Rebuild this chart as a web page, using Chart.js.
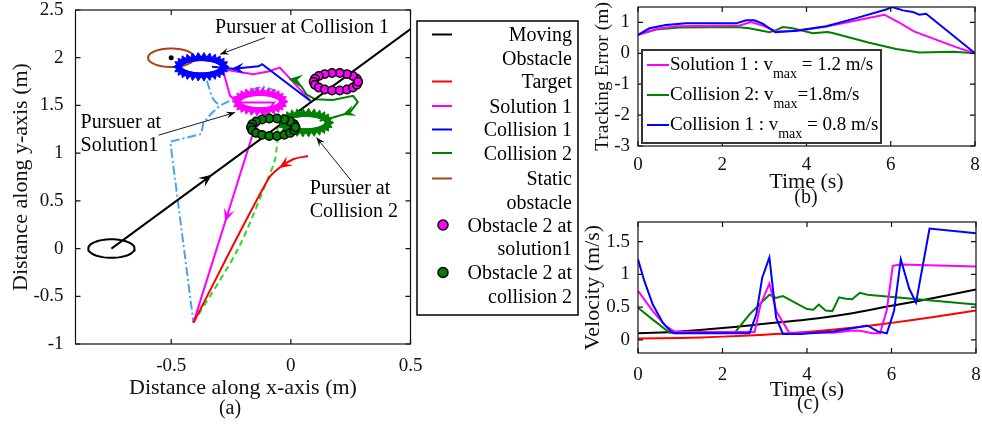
<!DOCTYPE html>
<html lang="en">
<head>
<meta charset="UTF-8">
<title>Pursuer trajectories, tracking error and velocity</title>
<script src="https://cdn.jsdelivr.net/npm/chart.js"></script>
<style>
    body {
        margin: 0;
        background: #fff;
        width: 982px;
        height: 425px;
        position: relative;
        overflow: hidden;
    }
    canvas { position: absolute; }
    #chartA { left: 0; top: 0; }
    #chartB { left: 580px; top: 0; }
    #chartC { left: 580px; top: 210px; }
</style>
</head>
<body>
<canvas id="chartA" width="585" height="425"></canvas>
<canvas id="chartB" width="402" height="210"></canvas>
<canvas id="chartC" width="402" height="215"></canvas>

<script>
    const FONT = '"Liberation Serif", "Times New Roman", serif';
    const INK = '#111';

    // ---------- (a) trajectories, metres ----------
    const xTicksA = [-0.5, 0, 0.5];
    const yTicksA = [-1, -0.5, 0, 0.5, 1, 1.5, 2, 2.5];

    const movingX = [-0.75, 0.5];
    const movingY = [0.0, 2.3];
    const targetX = [0.072, 0.010, -0.046, -0.095, -0.407];
    const targetY = [0.971, 0.936, 0.849, 0.726, -0.776];
    const sol1X = [0.082, -0.046, -0.095, -0.157, -0.285, -0.254, -0.22, -0.07, -0.11, -0.157, -0.407];
    const sol1Y = [1.547, 1.897, 1.855, 1.827, 1.88, 1.60, 1.53, 1.53, 1.40, 1.216, -0.776];
    const col1X = [0.082, -0.12, -0.135, -0.24, -0.33];
    const col1Y = [1.547, 1.932, 1.91, 1.885, 1.905];
    const col1DashX = [-0.06, -0.115, -0.157, -0.24, -0.296, -0.33, -0.365, -0.375, -0.504, -0.407];
    const col1DashY = [1.652, 1.698, 1.67, 1.565, 1.50, 1.42, 1.32, 1.20, 1.12, -0.776];
    const col1BranchX = [-0.351, -0.324, -0.296];
    const col1BranchY = [1.757, 1.565, 1.495];
    const col2X = [-0.005, 0.044, 0.065, 0.10, 0.176, 0.26, 0.28, 0.246, 0.176, 0.12];
    const col2Y = [1.78, 1.698, 1.617, 1.565, 1.558, 1.60, 1.537, 1.425, 1.373, 1.34];
    const col2DashX = [-0.407, -0.22, -0.095, -0.067, -0.06, -0.055, -0.058];
    const col2DashY = [-0.776, 0.0, 0.74, 0.92, 1.04, 1.20, 1.33];

    // circles: moving obstacle start, static obstacle, pursuer at collision 1,
    // pursuer at solution 1, pursuer at collision 2, obstacle 2 at solution1, obstacle 2 at collision 2
    const ringX = [-0.75, -0.5, -0.375, -0.129, 0.062, 0.188, -0.074];
    const ringY = [0.0, 2.0, 1.905, 1.54, 1.32, 1.748, 1.272];
    const ringR = [0.097, 0.097, 0.093, 0.093, 0.093, 0.093, 0.093];

    // direction arrows on the paths (from -> tip)
    const arrowFromX = [-0.38, 0.0, -0.25, -0.15, 0.045, 0.27];
    const arrowFromY = [0.681, 0.925, 0.47, 1.898, 1.765, 1.45];
    const arrowToX = [-0.33, -0.05, -0.274, -0.25, -0.005, 0.215];
    const arrowToY = [0.773, 0.845, 0.28, 1.882, 1.78, 1.40];

    const noteText = [['Pursuer at Collision 1'], ['Pursuer at', 'Solution1'], ['Pursuer at', 'Collision 2']];
    const noteX = [-0.317, -0.879, 0.079];
    const noteY = [2.312, 1.321, 0.629];
    const pointerFromX = [-0.108, -0.553, 0.253];
    const pointerFromY = [2.21, 1.188, 0.709];
    const pointerToX = [-0.296, -0.233, 0.107];
    const pointerToY = [2.036, 1.426, 1.164];

    const legendLabelsA = [['Moving', 'Obstacle'], ['Target'], ['Solution 1'], ['Collision 1'],
                           ['Collision 2'], ['Static', 'obstacle'], ['Obstacle 2 at', 'solution1'],
                           ['Obstacle 2 at', 'collision 2']];

    // ---------- (b) tracking error ----------
    const timeTicks = [0, 2, 4, 6, 8];
    const errTicks = [-3, -2, -1, 0, 1];
    const errTSol1 = [0, 0.43, 0.9, 2.41, 2.68, 2.96, 3.28, 3.75, 4.47, 5.85, 6.21, 6.55, 7.2, 7.55, 8];
    const errSol1 = [0.6, 0.79, 0.88, 0.90, 1.01, 0.90, 0.71, 0.72, 0.87, 1.25, 0.99, 0.71, 0.38, 0.20, 0];
    const errTCol2 = [0, 0.43, 0.98, 2.33, 2.64, 3.12, 3.28, 3.44, 3.67, 4.15, 4.5, 4.62, 5.49, 6.13, 6.68, 7.5, 8];
    const errCol2 = [0.6, 0.77, 0.84, 0.85, 0.81, 0.68, 0.75, 0.85, 0.81, 0.65, 0.69, 0.66, 0.34, 0.14, 0.03, 0.05, 0];
    const errTCol1 = [0, 0.27, 0.66, 1.14, 2.33, 2.57, 2.76, 2.96, 3.26, 3.75, 4.47, 5.18, 5.89, 6.03, 6.29, 6.52, 6.68, 6.84, 8];
    const errCol1 = [0.6, 0.81, 0.92, 0.97, 0.97, 1.07, 1.07, 0.96, 0.68, 0.73, 0.88, 1.14, 1.42, 1.5, 1.39, 1.34, 1.25, 1.28, 0];
    const legendMainB = ['Solution 1 : v', 'Collision 2: v', 'Collision 1 : v'];
    const legendTailB = [' = 1.2 m/s', '=1.8m/s', ' = 0.8 m/s'];

    // ---------- (c) velocity ----------
    const velTicks = [0, 0.5, 1, 1.5];
    const velTCol1 = [0, 0.15, 0.35, 0.59, 0.79, 0.85, 2.64, 2.8, 2.94, 3.11, 3.27, 3.43, 3.85, 4.63, 5.43, 5.67, 5.89, 6.06, 6.22, 6.42, 6.58, 6.9, 8];
    const velCol1 = [1.23, 0.9, 0.54, 0.26, 0.12, 0.10, 0.10, 0.39, 0.95, 1.26, 0.34, 0.09, 0.09, 0.13, 0.22, 0.13, 0.10, 0.44, 1.23, 0.78, 0.57, 1.70, 1.63];
    const velTSol1 = [0, 0.35, 0.66, 0.89, 2.76, 2.9, 3.11, 3.27, 3.58, 4.63, 5.02, 5.26, 5.54, 5.73, 5.89, 6.03, 6.21, 8];
    const velSol1 = [0.75, 0.44, 0.21, 0.12, 0.12, 0.54, 0.86, 0.44, 0.11, 0.11, 0.14, 0.14, 0.10, 0.10, 0.46, 1.13, 1.15, 1.12];
    const velTCol2 = [0, 0.35, 0.75, 2.29, 2.64, 3.11, 3.26, 3.43, 4.0, 4.15, 4.28, 4.44, 4.6, 4.76, 4.92, 5.07, 5.25, 5.43, 8];
    const velCol2 = [0.49, 0.31, 0.11, 0.11, 0.39, 0.69, 0.64, 0.67, 0.47, 0.46, 0.54, 0.45, 0.44, 0.65, 0.63, 0.62, 0.72, 0.69, 0.54];
    const velTObs = [0, 1, 2, 3, 4, 5, 6, 7, 8];
    const velObs = [0.10, 0.13, 0.18, 0.245, 0.31, 0.40, 0.52, 0.64, 0.77];
    const velTarget = [0.02, 0.03, 0.05, 0.08, 0.12, 0.18, 0.26, 0.35, 0.45];

    // ---------- helpers ----------
    const pts = (xs, ys) => xs.map((x, i) => ({ x: x, y: ys[i] }));

    function ringPoints(i, n) {
        const out = [];
        for (let k = 0; k <= n; k++) {
            const a = 2 * Math.PI * k / n;
            out.push({ x: ringX[i] + ringR[i] * Math.cos(a), y: ringY[i] + ringR[i] * Math.sin(a), a: a });
        }
        return out;
    }

    function path(data, color, order, extra) {
        return Object.assign({
            data: data, showLine: true, borderColor: color, backgroundColor: color,
            borderWidth: 2, pointRadius: 0, tension: 0, order: order
        }, extra || {});
    }

    // spikes of the pursuer rings point outward on screen
    function spikeRotation(c) {
        const p = c.raw;
        if (!p) return 0;
        const sx = c.chart.scales.x, sy = c.chart.scales.y;
        const kx = sx.getPixelForValue(1) - sx.getPixelForValue(0);
        const ky = sy.getPixelForValue(0) - sy.getPixelForValue(1);
        return Math.atan2(ky * Math.cos(p.a), kx * Math.sin(p.a)) * 180 / Math.PI;
    }

    function jagged(i, color) {
        return {
            data: ringPoints(i, 26), showLine: true, borderColor: color, borderWidth: 4,
            pointStyle: 'triangle', pointRadius: 5.5, pointBackgroundColor: color,
            pointBorderColor: color, pointBorderWidth: 1, pointRotation: spikeRotation, order: 1
        };
    }

    function dotted(i, fill) {
        return {
            data: ringPoints(i, 18), showLine: true, borderColor: '#000', borderWidth: 2.5,
            pointStyle: 'circle', pointRadius: 4.2, pointBackgroundColor: fill,
            pointBorderColor: '#000', pointBorderWidth: 1.5, order: 0
        };
    }

    function linearAxis(min, max, tickVals, size, isY, pad, title, titlePad, titleSize) {
        return {
            type: 'linear', min: min, max: max,
            afterBuildTicks: s => { s.ticks = tickVals.map(v => ({ value: v })); },
            afterFit: s => {
                if (isY) s.width = size; else s.height = size;
                s.paddingTop = s.paddingBottom = s.paddingLeft = s.paddingRight = 0;
            },
            grid: { display: false, drawTicks: false, tickLength: 0 },
            border: { display: false },
            ticks: {
                font: { family: FONT, size: 19, lineHeight: 1 }, color: INK, padding: pad,
                autoSkip: false, maxRotation: 0, callback: v => String(v)
            },
            title: {
                display: true, text: title, color: INK,
                font: { family: FONT, size: titleSize || 22, lineHeight: 1 },
                padding: isY ? { top: titlePad } : { bottom: titlePad }
            }
        };
    }

    function drawHead(ctx, x0, y0, x1, y1, len, wid, color) {
        const ang = Math.atan2(y1 - y0, x1 - x0);
        ctx.save();
        ctx.translate(x1, y1);
        ctx.rotate(ang);
        ctx.beginPath();
        ctx.moveTo(0, 0);
        ctx.lineTo(-len, -wid / 2);
        ctx.lineTo(-len * 0.6, 0);
        ctx.lineTo(-len, wid / 2);
        ctx.closePath();
        ctx.fillStyle = color;
        ctx.fill();
        ctx.restore();
    }

    // box with inward ticks, MATLAB style
    const framePlugin = {
        id: 'frame',
        afterDatasetsDraw(chart) {
            const { ctx, chartArea: a, scales: { x, y } } = chart;
            ctx.save();
            ctx.strokeStyle = INK;
            ctx.lineWidth = 1.2;
            ctx.strokeRect(a.left, a.top, a.right - a.left, a.bottom - a.top);
            const len = 5;
            ctx.beginPath();
            x.ticks.forEach(t => {
                const px = x.getPixelForValue(t.value);
                ctx.moveTo(px, a.bottom); ctx.lineTo(px, a.bottom - len);
                ctx.moveTo(px, a.top); ctx.lineTo(px, a.top + len);
            });
            y.ticks.forEach(t => {
                const py = y.getPixelForValue(t.value);
                ctx.moveTo(a.left, py); ctx.lineTo(a.left + len, py);
                ctx.moveTo(a.right, py); ctx.lineTo(a.right - len, py);
            });
            ctx.stroke();
            ctx.restore();
        }
    };

    const captionPlugin = {
        id: 'caption',
        afterDraw(chart, args, opts) {
            const ctx = chart.ctx;
            ctx.save();
            ctx.font = '20px ' + FONT;
            ctx.fillStyle = INK;
            ctx.textAlign = 'center';
            ctx.textBaseline = 'middle';
            ctx.fillText(opts.text, opts.x, opts.y);
            ctx.restore();
        }
    };

    // notes, pointers and path arrows of panel (a)
    const notesA = {
        id: 'notesA',
        afterDatasetsDraw(chart) {
            const { ctx, scales: { x, y } } = chart;
            const headColors = ['#000', '#ff0000', '#ff00ff', '#0000ff', '#008000', '#008000'];
            arrowToX.forEach((tx, i) => {
                drawHead(ctx, x.getPixelForValue(arrowFromX[i]), y.getPixelForValue(arrowFromY[i]),
                         x.getPixelForValue(tx), y.getPixelForValue(arrowToY[i]), 13, 11, headColors[i]);
            });
            ctx.save();
            ctx.strokeStyle = '#000';
            ctx.lineWidth = 0.9;
            pointerToX.forEach((tx, i) => {
                const x0 = x.getPixelForValue(pointerFromX[i]), y0 = y.getPixelForValue(pointerFromY[i]);
                const x1 = x.getPixelForValue(tx), y1 = y.getPixelForValue(pointerToY[i]);
                ctx.beginPath(); ctx.moveTo(x0, y0); ctx.lineTo(x1, y1); ctx.stroke();
                drawHead(ctx, x0, y0, x1, y1, 9, 7, '#000');
            });
            ctx.font = '20px ' + FONT;
            ctx.fillStyle = '#000';
            ctx.textAlign = 'left';
            ctx.textBaseline = 'middle';
            noteText.forEach((lines, i) => {
                lines.forEach((t, j) => ctx.fillText(t, x.getPixelForValue(noteX[i]), y.getPixelForValue(noteY[i]) + j * 23.4));
            });
            ctx.restore();
        }
    };

    const legendA = {
        id: 'legendA',
        afterDraw(chart) {
            const ctx = chart.ctx;
            const lineColors = ['#000', '#ff0000', '#ff00ff', '#0000ff', '#008000', '#a5461a'];
            const markerFill = ['#ff00ff', '#008000'];
            const rowY = [36, 83, 107.5, 131, 154.5, 180, 226.5, 274];
            ctx.save();
            ctx.fillStyle = '#fff';
            ctx.fillRect(417, 21, 161, 294);
            ctx.strokeStyle = '#000';
            ctx.lineWidth = 1.5;
            ctx.strokeRect(417, 21, 161, 294);
            ctx.font = '20px ' + FONT;
            ctx.textAlign = 'right';
            ctx.textBaseline = 'middle';
            legendLabelsA.forEach((lines, i) => {
                ctx.fillStyle = '#000';
                lines.forEach((t, j) => ctx.fillText(t, 572, rowY[i] + j * 23.5));
                const ly = rowY[i] - 1.5;
                if (i < 6) {
                    ctx.strokeStyle = lineColors[i];
                    ctx.lineWidth = 2;
                    ctx.beginPath(); ctx.moveTo(432, ly); ctx.lineTo(452, ly); ctx.stroke();
                } else {
                    ctx.beginPath(); ctx.arc(443, ly, 5, 0, 2 * Math.PI);
                    ctx.fillStyle = markerFill[i - 6]; ctx.fill();
                    ctx.strokeStyle = '#000'; ctx.lineWidth = 1.5; ctx.stroke();
                }
            });
            ctx.restore();
        }
    };

    const legendB = {
        id: 'legendB',
        afterDraw(chart) {
            const ctx = chart.ctx;
            const colors = ['#ff00ff', '#008000', '#0000ff'];
            ctx.save();
            ctx.fillStyle = '#fff';
            ctx.fillRect(62, 50, 239, 93);
            ctx.strokeStyle = '#333';
            ctx.lineWidth = 2;
            ctx.strokeRect(62, 50, 239, 93);
            ctx.textAlign = 'left';
            ctx.textBaseline = 'middle';
            legendMainB.forEach((t, i) => {
                const yy = 65 + i * 30;
                ctx.strokeStyle = colors[i];
                ctx.lineWidth = 2;
                ctx.beginPath(); ctx.moveTo(67, yy); ctx.lineTo(89, yy); ctx.stroke();
                ctx.fillStyle = '#000';
                ctx.font = '19px ' + FONT;
                ctx.fillText(t, 90, yy);
                let xx = 90 + ctx.measureText(t).width;
                ctx.font = '14px ' + FONT;
                ctx.fillText('max', xx, yy + 9);
                xx += ctx.measureText('max').width;
                ctx.font = '19px ' + FONT;
                ctx.fillText(legendTailB[i], xx, yy);
            });
            ctx.restore();
        }
    };

    const baseOpts = {
        responsive: false,
        animation: false,
        events: []
    };
    const quiet = { legend: { display: false }, tooltip: { enabled: false } };

    // ---------- chart (a) ----------
    new Chart(document.getElementById('chartA'), {
        type: 'scatter',
        data: {
            datasets: [
                dotted(5, '#ff00ff'),
                dotted(6, '#008000'),
                jagged(2, '#0000ff'),
                jagged(3, '#ff00ff'),
                jagged(4, '#008000'),
                path(pts(movingX, movingY), '#000', 2),
                path(ringPoints(0, 60), '#000', 2),
                path(ringPoints(1, 60), '#a5461a', 2),
                path([{ x: ringX[1], y: ringY[1] }], '#000', 2, { showLine: false, pointRadius: 1.5 }),
                path(pts(col1DashX, col1DashY), '#4aa3f0', 3, { borderDash: [9, 3, 2, 3] }),
                path(pts(col1BranchX, col1BranchY), '#4aa3f0', 3, { borderDash: [9, 3, 2, 3], tension: 0.3 }),
                path(pts(col2DashX, col2DashY), '#22dd22', 3, { borderDash: [6, 4], tension: 0.3 }),
                path(pts(targetX, targetY), '#ff0000', 2, { tension: 0.35 }),
                path(pts(col2X, col2Y), '#008000', 2),
                path(pts(col1X, col1Y), '#0000ff', 2),
                path(pts(sol1X, sol1Y), '#ff00ff', 2)
            ]
        },
        options: Object.assign({}, baseOpts, {
            layout: { padding: { left: 0, right: 174.5, top: 10, bottom: 0 } },
            scales: {
                x: linearAxis(-0.9, 0.5, xTicksA, 81, false, 13, 'Distance along x-axis (m)', 26),
                y: linearAxis(-1, 2.5, yTicksA, 75.5, true, 12, 'Distance along y-axis (m)', 10)
            },
            plugins: Object.assign({}, quiet, { caption: { text: '(a)', x: 230, y: 409 } })
        }),
        plugins: [framePlugin, notesA, captionPlugin, legendA]
    });

    // ---------- chart (b) ----------
    new Chart(document.getElementById('chartB'), {
        type: 'scatter',
        data: {
            datasets: [
                path(pts(errTCol1, errCol1), '#0000ff', 0),
                path(pts(errTSol1, errSol1), '#ff00ff', 1),
                path(pts(errTCol2, errCol2), '#008000', 2)
            ]
        },
        options: Object.assign({}, baseOpts, {
            layout: { padding: { left: 0, right: 7, top: 7, bottom: 0 } },
            scales: {
                x: linearAxis(0, 8, timeTicks, 64, false, 10, 'Time (s)', 17),
                y: linearAxis(-3, 1.5, errTicks, 58, true, 8, 'Tracking Error (m)', 13, 19.5)
            },
            plugins: Object.assign({}, quiet, { caption: { text: '(b)', x: 226, y: 198 } })
        }),
        plugins: [framePlugin, captionPlugin, legendB]
    });

    // ---------- chart (c) ----------
    new Chart(document.getElementById('chartC'), {
        type: 'scatter',
        data: {
            datasets: [
                path(pts(velTCol1, velCol1), '#0000ff', 0),
                path(pts(velTSol1, velSol1), '#ff00ff', 1),
                path(pts(velTCol2, velCol2), '#008000', 2),
                path(pts(velTObs, velObs), '#000', 3, { tension: 0.4 }),
                path(pts(velTObs, velTarget), '#ff0000', 4, { tension: 0.4 })
            ]
        },
        options: Object.assign({}, baseOpts, {
            layout: { padding: { left: 0, right: 6, top: 12, bottom: 0 } },
            scales: {
                x: linearAxis(0, 8, timeTicks, 72, false, 13, 'Time (s)', 24),
                y: linearAxis(-0.2, 1.8, velTicks, 58, true, 8, 'Velocity (m/s)', 2.5)
            },
            plugins: Object.assign({}, quiet, { caption: { text: '(c)', x: 228, y: 194 } })
        }),
        plugins: [framePlugin, captionPlugin]
    });
</script>
</body>
</html>
